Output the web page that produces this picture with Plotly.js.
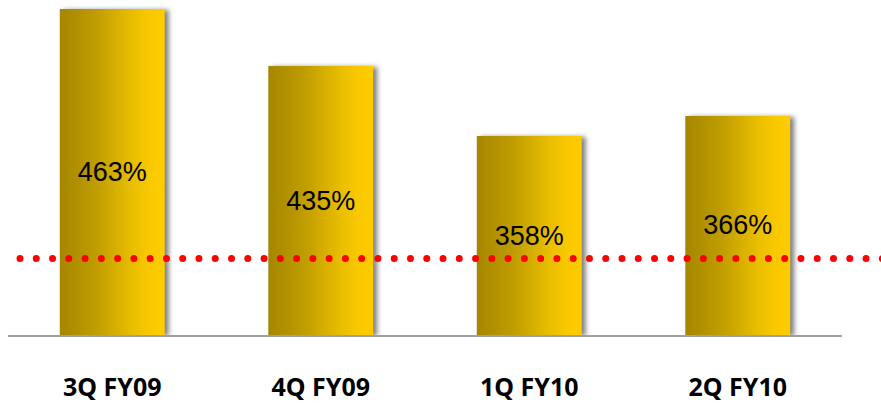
<!DOCTYPE html>
<html>
<head>
<meta charset="utf-8">
<script src="https://cdn.plot.ly/plotly-3.0.1.min.js"></script>
<style>
  html, body { margin: 0; padding: 0; background: #fff; }
  #chart { width: 881px; height: 405px; }
  .trace.bars .point path { filter: drop-shadow(4px 1px 2.5px rgba(0,0,0,0.5)); }
</style>
</head>
<body>
<div id="chart"></div>
<script>
// Categories and values
const categories = ['3Q FY09', '4Q FY09', '1Q FY10', '2Q FY10'];
// Bar lengths as drawn in the picture (relative units, 0-100 scale)
const barHeights = [97.3, 80.3, 59.4, 65.4];
// Value labels printed inside the bars
const valueLabels = ['463%', '435%', '358%', '366%'];
// Level of the red dotted reference line (same relative units)
const referenceLevel = 22.8;
const yMax = 100;

const trace = {
  type: 'bar',
  x: categories,
  y: barHeights,
  text: valueLabels,
  textposition: 'inside',
  insidetextanchor: 'middle',
  textangle: 0,
  textfont: { family: 'Liberation Sans, Arial, sans-serif', size: 27, color: '#000000' },
  marker: { color: '#e0b400', line: { width: 0 } },
  width: 0.503,
  hoverinfo: 'none',
  cliponaxis: false
};

const layout = {
  width: 881,
  height: 405,
  margin: { l: 8, r: 39, t: 0, b: 70 },
  paper_bgcolor: '#ffffff',
  plot_bgcolor: '#ffffff',
  showlegend: false,
  xaxis: {
    type: 'category',
    range: [-0.5, 3.5],
    showline: true,
    linecolor: '#a0a0a0',
    linewidth: 2,
    showgrid: false,
    zeroline: false,
    ticks: '',
    ticklabelstandoff: 29,
    tickfont: { family: 'Noto Sans, sans-serif', size: 25, color: '#000000', weight: 'bold' },
    fixedrange: true
  },
  yaxis: {
    range: [0, yMax],
    visible: false,
    showgrid: false,
    zeroline: false,
    fixedrange: true
  },
  shapes: [{
    type: 'line',
    xref: 'paper',
    yref: 'paper',
    x0: (20 - 8) / 834,
    x1: (884 - 8) / 834,
    y0: referenceLevel / yMax,
    y1: referenceLevel / yMax,
    layer: 'above',
    line: { color: '#ff0000', width: 7, dash: '0px,16.27px' }
  }]
};

Plotly.newPlot('chart', [trace], layout, { displayModeBar: false, staticPlot: true }).then(function (gd) {
  const svg = gd.querySelector('svg.main-svg');
  const ns = 'http://www.w3.org/2000/svg';
  let defs = svg.querySelector('defs');
  if (!defs) { defs = document.createElementNS(ns, 'defs'); svg.insertBefore(defs, svg.firstChild); }
  const grad = document.createElementNS(ns, 'linearGradient');
  grad.setAttribute('id', 'barGrad');
  grad.setAttribute('x1', '0'); grad.setAttribute('y1', '0');
  grad.setAttribute('x2', '1'); grad.setAttribute('y2', '0');
  [['0', '#a58600'], ['0.35', '#c09d00'], ['0.7', '#eabf00'], ['0.88', '#fbc900'], ['1', '#ffcc00']].forEach(function (s) {
    const st = document.createElementNS(ns, 'stop');
    st.setAttribute('offset', s[0]);
    st.setAttribute('stop-color', s[1]);
    grad.appendChild(st);
  });
  defs.appendChild(grad);
  gd.querySelectorAll('.trace.bars .point path').forEach(function (p) {
    p.style.fill = 'url(#barGrad)';
  });
  gd.querySelectorAll('.shapelayer path').forEach(function (p) {
    p.style.strokeLinecap = 'round';
  });
});
</script>
</body>
</html>
